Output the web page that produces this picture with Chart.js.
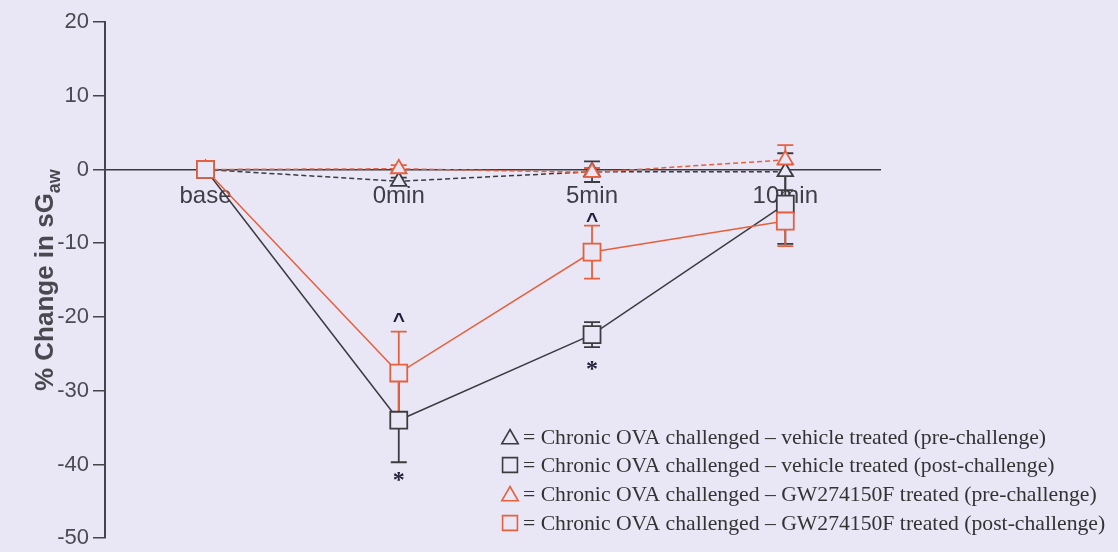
<!DOCTYPE html>
<html>
<head>
<meta charset="utf-8">
<script src="https://cdn.jsdelivr.net/npm/chart.js@4"></script>
<style>
	body { margin: 0; background: #e9e7f6; }
	#wrap { width: 1118px; height: 552px; }
</style>
</head>
<body>
<div id="wrap"><canvas id="myChart"></canvas></div>
<script>
const timeLabels = ["base", "0min", "5min", "10min"];
const yTicks = [20, 10, 0, -10, -20, -30, -40, -50];

const seriesNames = [
	"= Chronic OVA challenged \u2013 vehicle treated (pre-challenge)",
	"= Chronic OVA challenged \u2013 vehicle treated (post-challenge)",
	"= Chronic OVA challenged \u2013 GW274150F treated (pre-challenge)",
	"= Chronic OVA challenged \u2013 GW274150F treated (post-challenge)",
];

// mean % change and error (SEM) per time point
const vehiclePre = [0, -1.6, -0.3, -0.3];
const vehiclePreErr = [0, 0.5, 1.4, 2.5];
const vehiclePost = [0, -34.0, -22.4, -4.7];
const vehiclePostErr = [0, 5.7, 1.7, 5.4];
const gwPre = [0, 0.1, -0.4, 1.3];
const gwPreErr = [0, 0.5, 0.6, 2.0];
const gwPost = [0, -27.6, -11.2, -7.0];
const gwPostErr = [0, 5.6, 3.6, 3.4];

// significance marks: [time index, y value, symbol]
const marks = [
	[1, -20.0, "^"],
	[1, -41.8, "*"],
	[2, -6.5, "^"],
	[2, -26.8, "*"],
];

const GREY = "#3c3c40";
const RED = "#e6603e";
const BG = "#e9e7f6";

function toPoints(values) {
	return values.map((v, i) => ({ x: i, y: v }));
}

const datasets = [
	{ label: seriesNames[0], data: toPoints(vehiclePre), err: vehiclePreErr, borderColor: GREY, borderDash: [5, 3], pointStyle: "triangle", pointRadius: 9, order: 3 },
	{ label: seriesNames[1], data: toPoints(vehiclePost), err: vehiclePostErr, borderColor: GREY, borderDash: [], pointStyle: "rect", pointRadius: 12, order: 1 },
	{ label: seriesNames[2], data: toPoints(gwPre), err: gwPreErr, borderColor: RED, borderDash: [5, 3], pointStyle: "triangle", pointRadius: 9, order: 2 },
	{ label: seriesNames[3], data: toPoints(gwPost), err: gwPostErr, borderColor: RED, borderDash: [], pointStyle: "rect", pointRadius: 12, order: 0 },
].map((d) => ({
	...d,
	borderWidth: 1.5,
	pointBorderColor: d.borderColor,
	pointBackgroundColor: BG,
	pointBorderWidth: 1.8,
	pointHoverRadius: d.pointRadius,
	fill: false,
	tension: 0,
}));

const bgPlugin = {
	id: "bg",
	beforeDraw(chart) {
		const ctx = chart.ctx;
		ctx.save();
		ctx.fillStyle = BG;
		ctx.fillRect(0, 0, chart.width, chart.height);
		ctx.restore();
	},
};

const errorBars = {
	id: "errorBars",
	beforeDatasetsDraw(chart) {
		const ctx = chart.ctx;
		const xs = chart.scales.x;
		const ys = chart.scales.y;
		ctx.save();
		chart.data.datasets.forEach((ds) => {
			ctx.strokeStyle = ds.borderColor;
			ctx.lineWidth = 1.8;
			ds.data.forEach((p, i) => {
				const e = ds.err[i];
				if (!e) return;
				const x = xs.getPixelForValue(p.x);
				const top = ys.getPixelForValue(p.y + e);
				const bot = ys.getPixelForValue(p.y - e);
				ctx.beginPath();
				ctx.moveTo(x, top);
				ctx.lineTo(x, bot);
				ctx.moveTo(x - 8, top);
				ctx.lineTo(x + 8, top);
				ctx.moveTo(x - 8, bot);
				ctx.lineTo(x + 8, bot);
				ctx.stroke();
			});
		});
		ctx.restore();
	},
};

const extras = {
	id: "extras",
	afterDraw(chart) {
		const ctx = chart.ctx;
		const xs = chart.scales.x;
		const ys = chart.scales.y;
		const area = chart.chartArea;
		ctx.save();

		// significance marks
		ctx.fillStyle = "#231f3a";
		ctx.textAlign = "center";
		ctx.textBaseline = "middle";
		marks.forEach(([i, v, s]) => {
			ctx.font = s === "^" ? "bold 21px 'Liberation Sans', Arial" : "bold 24px 'Liberation Serif', serif";
			ctx.fillText(s, xs.getPixelForValue(i), ys.getPixelForValue(v) + (s === "^" ? 4 : 3));
		});

		// y axis title with subscript
		const cy = (area.top + area.bottom) / 2;
		ctx.translate(46, cy);
		ctx.rotate(-Math.PI / 2);
		ctx.fillStyle = "#48484e";
		ctx.textAlign = "left";
		ctx.textBaseline = "middle";
		const main = "% Change in sG";
		const sub = "aw";
		ctx.font = "bold 26px 'Liberation Sans', Arial";
		const w1 = ctx.measureText(main).width;
		ctx.font = "bold 18px 'Liberation Sans', Arial";
		const w2 = ctx.measureText(sub).width;
		const start = -(w1 + w2) / 2;
		ctx.font = "bold 26px 'Liberation Sans', Arial";
		ctx.fillText(main, start, 0);
		ctx.font = "bold 18px 'Liberation Sans', Arial";
		ctx.fillText(sub, start + w1, 9);
		ctx.setTransform(1, 0, 0, 1, 0, 0);

		// legend
		const lx = 510;
		const ly = [437, 465, 494, 523];
		ctx.font = "21.7px 'Liberation Serif', 'Times New Roman', serif";
		ctx.textAlign = "left";
		ctx.textBaseline = "middle";
		chart.data.datasets.forEach((ds, k) => {
			ctx.fillStyle = "#333";
			ctx.fillText(ds.label, lx + 13, ly[k] + 1);
			ctx.strokeStyle = ds.borderColor;
			ctx.fillStyle = BG;
			ctx.lineWidth = 1.6;
			Chart.helpers.drawPoint(ctx, { pointStyle: ds.pointStyle, radius: ds.pointStyle === "rect" ? 10.5 : 9.5, borderWidth: 1.6 }, lx, ly[k] + (ds.pointStyle === "triangle" ? 2 : 0));
		});
		ctx.restore();
	},
};

new Chart(document.getElementById("myChart"), {
	type: "line",
	data: { datasets },
	plugins: [bgPlugin, errorBars, extras],
	options: {
		responsive: true,
		maintainAspectRatio: false,
		animation: false,
		layout: { padding: { top: 22, right: 238, bottom: 10, left: 0 } },
		plugins: {
			legend: { display: false },
			tooltip: { enabled: false },
		},
		scales: {
			x: {
				type: "linear",
				position: { y: 0 },
				min: -0.52,
				max: 3.49,
				afterBuildTicks: (scale) => {
					scale.ticks = timeLabels.map((_, i) => ({ value: i }));
				},
				afterFit: (scale) => {
					scale.paddingLeft = 0;
					scale.paddingRight = 0;
				},
				ticks: {
					callback: (v) => timeLabels[v],
					font: { family: "'Liberation Sans', Arial", size: 24 },
					color: "#3e3e46",
					padding: 12,
					maxRotation: 0,
				},
				grid: { display: false, drawTicks: false },
				border: { display: true, color: "#3a3a3e", width: 1.5 },
			},
			y: {
				min: -50,
				max: 20,
				afterFit: (scale) => {
					scale.width = 105;
					scale.paddingTop = 0;
					scale.paddingBottom = 0;
				},
				afterBuildTicks: (scale) => {
					scale.ticks = yTicks.map((v) => ({ value: v }));
				},
				ticks: {
					font: { family: "'Liberation Sans', Arial", size: 22 },
					color: "#4a4a52",
					padding: 4,
				},
				grid: { drawOnChartArea: false, tickLength: 12, color: "#44444a", lineWidth: 1.5 },
				border: { display: true, color: "#44444a", width: 2 },
			},
		},
	},
});
</script>
</body>
</html>
